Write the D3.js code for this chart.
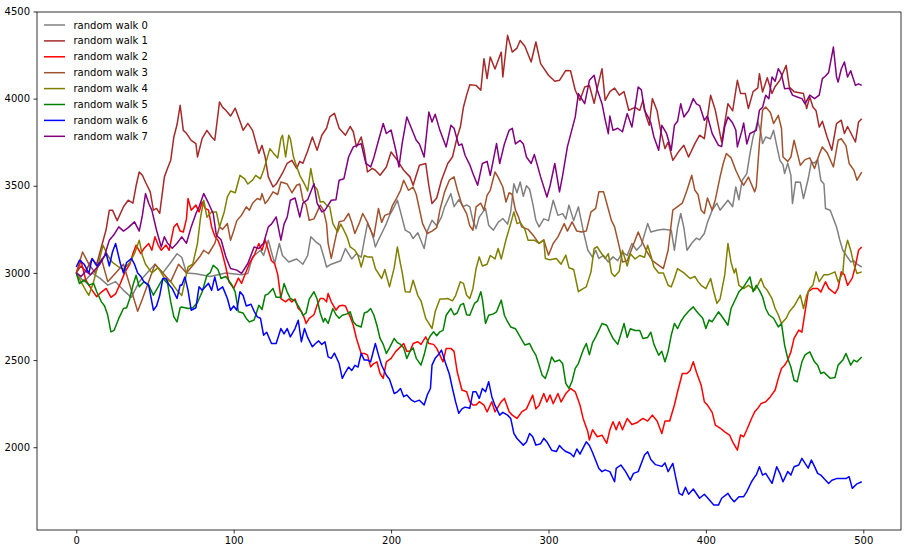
<!DOCTYPE html>
<html><head><meta charset="utf-8">
<script src="https://cdn.jsdelivr.net/npm/d3@7"></script>
<style>body{margin:0;background:#fff} svg text{font-family:"DejaVu Sans",sans-serif;}</style>
</head><body><svg id="c" width="910" height="555"></svg>
<script>
const seriesNames = ["random walk 0","random walk 1","random walk 2","random walk 3","random walk 4","random walk 5","random walk 6","random walk 7"];
const seriesColors = ["#808080","#a52a2a","#ff0000","#a0522d","#808000","#008000","#0000ff","#800080"];
const xTicks = [0,100,200,300,400,500];
const yTicks = [2000,2500,3000,3500,4000,4500];

// [step, value]
const walk0 = [[0,3000],[5,2950],[10,3000],[15,2970],[20,2930],[25,2950],[30,2900],[35,2860],[40,2950],[45,3000],[50,3050],[55,3000],[60,3060],[64,3110],[67,3090],[70,3000],[76,2995],[85,2980],[95,3000],[105,2990],[109,2997],[112,3092],[117,3130],[119,3100],[122,3188],[124,3120],[126,3054],[129,3169],[131,3100],[135,3063],[140,3080],[144,3050],[147,3100],[149,3207],[152,3180],[155,3160],[157,3100],[159,3034],[162,3050],[165,3060],[168,3070],[171,3140],[175,3080],[178,3110],[181,3090],[183,3188],[185,3283],[187,3250],[189,3190],[190,3149],[192,3190],[195,3245],[197,3283],[199,3330],[202,3379],[204,3417],[206,3350],[209,3245],[212,3230],[214,3197],[217,3230],[221,3140],[223,3240],[226,3302],[229,3270],[232,3320],[234,3379],[238,3455],[240,3380],[243,3420],[246,3380],[248,3390],[250,3379],[252,3300],[254,3254],[256,3320],[260,3370],[262,3274],[265,3245],[268,3290],[271,3312],[274,3280],[276,3350],[278,3512],[280,3460],[282,3522],[284,3440],[286,3500],[288,3480],[290,3398],[292,3302],[294,3264],[297,3310],[300,3300],[303,3417],[306,3330],[309,3340],[311,3310],[313,3389],[316,3300],[319,3379],[322,3245],[325,3130],[328,3090],[330,3130],[332,3083],[335,3100],[338,3063],[341,3092],[344,3070],[347,3120],[350,3100],[353,3169],[356,3130],[359,3160],[363,3283],[365,3235],[369,3245],[373,3250],[378,3245],[380,3130],[382,3260],[384,3341],[386,3260],[388,3130],[391,3170],[394,3200],[396,3190],[399,3226],[401,3290],[404,3360],[407,3400],[409,3360],[414,3417],[417,3380],[419,3493],[421,3420],[423,3530],[426,3570],[428,3685],[430,3780],[433,3870],[435,3800],[436,3742],[438,3780],[441,3770],[443,3818],[445,3730],[447,3646],[449,3620],[450,3570],[452,3630],[454,3560],[455,3398],[457,3522],[460,3520],[462,3427],[465,3540],[467,3637],[469,3630],[471,3650],[473,3532],[475,3510],[476,3370],[479,3360],[483,3264],[485,3190],[487,3130],[490,3090],[492,3063],[494,3070],[496,3050],[499,3034]];
const walk1 = [[0,3000],[3,3040],[6,3010],[10,3080],[13,3050],[16,3150],[19,3250],[21,3360],[23,3360],[26,3300],[30,3380],[33,3417],[36,3400],[38,3500],[40,3579],[42,3560],[44,3520],[47,3465],[49,3360],[51,3370],[53,3342],[56,3551],[58,3600],[60,3646],[62,3780],[64,3850],[66,3962],[68,3818],[70,3801],[73,3760],[76,3742],[77,3665],[80,3772],[83,3818],[86,3780],[88,3761],[91,3981],[93,3950],[95,3933],[98,3900],[101,3945],[104,3870],[106,3818],[109,3858],[112,3818],[116,3686],[118,3732],[120,3665],[122,3551],[125,3493],[127,3510],[131,3572],[134,3629],[137,3646],[140,3600],[142,3640],[144,3629],[147,3700],[150,3780],[153,3704],[156,3790],[159,3830],[161,3895],[164,3916],[167,3830],[171,3790],[174,3840],[176,3810],[178,3723],[181,3780],[183,3700],[185,3579],[188,3600],[190,3589],[193,3560],[197,3608],[200,3694],[204,3646],[208,3589],[212,3551],[214,3503],[218,3618],[222,3628],[224,3500],[226,3398],[229,3430],[232,3532],[236,3628],[239,3665],[242,3780],[244,3837],[246,3952],[248,4020],[250,4080],[254,4076],[257,4048],[259,4229],[261,4115],[263,4239],[266,4170],[270,4267],[271,4124],[274,4363],[277,4267],[280,4290],[282,4334],[285,4300],[289,4210],[292,4325],[295,4201],[300,4134],[304,4100],[307,4105],[311,4162],[314,4160],[317,4048],[320,3990],[323,4067],[326,4075],[329,3973],[331,4060],[334,4172],[336,3990],[339,4040],[342,4060],[345,4020],[348,4040],[351,3933],[355,3950],[358,3933],[360,3990],[362,3900],[364,3847],[366,4000],[369,3930],[371,3828],[374,3713],[376,3750],[379,3646],[383,3700],[386,3732],[389,3665],[393,3742],[396,3790],[399,3770],[403,4019],[406,3933],[410,3751],[414,3971],[417,3930],[420,4105],[422,4030],[425,4030],[427,3943],[430,4040],[433,4062],[434,4143],[436,4038],[439,4120],[442,4029],[444,4070],[447,4105],[451,4191],[453,4067],[456,4040],[462,4029],[464,3943],[466,4010],[468,3952],[470,3930],[472,3837],[474,3870],[477,3780],[480,3704],[483,3857],[486,3876],[488,3800],[490,3840],[495,3751],[497,3866],[499,3885]];
const walk2 = [[0,3000],[3,3070],[6,2960],[10,2901],[13,2863],[16,2890],[19,2911],[22,2860],[25,2880],[28,2939],[31,3006],[34,3050],[36,3111],[38,3159],[41,3111],[43,3140],[46,3169],[48,3130],[50,3207],[52,3160],[54,3130],[57,3160],[59,3130],[62,3264],[64,3283],[66,3240],[68,3235],[70,3310],[71,3427],[73,3360],[76,3389],[78,3350],[80,3407],[82,3370],[84,3360],[86,3264],[88,3210],[90,3188],[92,3140],[95,3034],[97,2949],[100,2911],[103,2970],[105,2940],[107,2987],[110,3054],[113,3100],[116,3169],[118,3130],[120,3190],[122,3130],[124,3070],[126,3054],[128,2990],[130,2853],[133,2834],[135,2850],[137,2834],[139,2850],[141,2796],[143,2780],[145,2739],[146,2710],[148,2739],[151,2760],[153,2815],[155,2853],[157,2853],[159,2834],[160,2882],[162,2834],[165,2786],[167,2810],[169,2815],[171,2810],[174,2748],[176,2700],[178,2624],[181,2538],[183,2538],[185,2530],[187,2461],[189,2480],[191,2490],[193,2423],[195,2395],[197,2490],[200,2510],[203,2550],[205,2567],[208,2595],[210,2550],[212,2550],[214,2595],[217,2605],[219,2590],[222,2633],[224,2595],[227,2590],[229,2567],[231,2528],[233,2490],[235,2567],[238,2567],[240,2550],[242,2433],[245,2328],[248,2318],[250,2261],[252,2242],[254,2242],[256,2261],[259,2242],[261,2203],[264,2261],[266,2203],[270,2261],[272,2280],[275,2203],[277,2184],[280,2165],[283,2203],[286,2220],[290,2299],[292,2220],[294,2240],[297,2308],[299,2260],[301,2300],[303,2250],[306,2308],[308,2260],[311,2308],[314,2337],[317,2318],[320,2242],[322,2165],[325,2088],[326,2041],[328,2100],[331,2060],[334,2069],[337,2022],[339,2100],[341,2146],[343,2100],[345,2146],[347,2100],[350,2165],[353,2130],[356,2140],[360,2165],[363,2150],[366,2184],[369,2150],[372,2079],[374,2150],[377,2150],[380,2242],[382,2318],[385,2423],[388,2423],[390,2440],[392,2490],[394,2430],[397,2356],[399,2261],[401,2242],[404,2200],[406,2127],[409,2110],[412,2088],[415,2070],[417,2031],[420,1983],[422,2070],[424,2060],[426,2100],[429,2165],[431,2203],[433,2223],[435,2250],[438,2261],[441,2290],[444,2328],[446,2395],[448,2452],[450,2470],[452,2500],[454,2547],[456,2624],[459,2672],[461,2660],[463,2777],[465,2892],[468,2911],[471,2911],[473,2890],[476,2949],[478,2911],[482,2882],[484,2911],[486,3006],[488,2990],[490,2929],[493,2970],[495,3040],[497,3130],[499,3149]];
const walk3 = [[0,3000],[4,3120],[8,3050],[12,3000],[16,3080],[20,2950],[25,3000],[30,3050],[35,2900],[39,2780],[42,2850],[46,2950],[50,3050],[55,3000],[60,2950],[65,3050],[70,3000],[75,3054],[79,3100],[81,3130],[84,3110],[88,3169],[91,3264],[93,3250],[96,3283],[98,3188],[100,3240],[102,3300],[105,3331],[108,3379],[110,3360],[112,3400],[115,3427],[117,3420],[118,3455],[120,3398],[122,3420],[125,3465],[128,3450],[130,3522],[134,3510],[137,3460],[140,3503],[142,3510],[144,3417],[146,3390],[148,3302],[151,3310],[155,3389],[157,3360],[159,3283],[160,3169],[162,3083],[164,3169],[167,3293],[170,3300],[173,3341],[175,3290],[177,3226],[180,3290],[182,3341],[185,3290],[187,3245],[189,3207],[192,3370],[194,3290],[196,3330],[199,3340],[201,3389],[203,3420],[206,3474],[208,3532],[211,3474],[214,3493],[216,3450],[220,3283],[223,3226],[226,3240],[229,3260],[231,3360],[234,3465],[237,3532],[240,3551],[242,3480],[245,3390],[248,3340],[250,3270],[252,3245],[254,3379],[257,3400],[259,3360],[261,3446],[263,3474],[266,3579],[268,3550],[271,3493],[273,3407],[275,3460],[277,3450],[279,3360],[281,3320],[283,3264],[287,3250],[291,3207],[294,3169],[297,3190],[300,3102],[303,3169],[306,3207],[310,3283],[312,3240],[315,3293],[318,3240],[321,3235],[324,3240],[327,3350],[330,3370],[332,3465],[335,3465],[337,3400],[340,3300],[342,3264],[345,3149],[347,3063],[350,3070],[353,3140],[357,3235],[359,3190],[362,3130],[366,3070],[369,3050],[373,3025],[376,3130],[379,3360],[382,3380],[385,3400],[388,3474],[391,3560],[393,3474],[395,3450],[397,3360],[399,3341],[401,3430],[404,3360],[406,3420],[409,3551],[411,3628],[413,3685],[416,3660],[419,3589],[422,3530],[424,3503],[427,3550],[431,3465],[432,3493],[434,3742],[436,3933],[438,3952],[441,3920],[443,3857],[446,3904],[448,3830],[449,3665],[452,3640],[454,3665],[456,3761],[458,3690],[460,3618],[463,3650],[466,3660],[469,3599],[472,3680],[474,3723],[477,3690],[481,3608],[484,3761],[486,3770],[489,3730],[491,3628],[494,3590],[496,3532],[499,3579]];
const walk4 = [[0,3000],[3,2950],[6,2900],[8,2872],[11,2950],[14,3050],[17,3159],[20,3100],[23,3060],[27,3034],[30,3020],[34,3060],[37,3111],[40,3188],[42,3100],[44,3050],[48,3000],[52,3030],[56,2970],[60,2950],[64,2900],[67,2870],[71,3034],[74,3050],[77,3169],[79,3321],[81,3417],[83,3320],[86,3350],[89,3350],[91,3264],[94,3350],[96,3436],[98,3470],[101,3460],[104,3560],[107,3540],[109,3510],[112,3532],[114,3560],[117,3540],[119,3589],[121,3650],[123,3713],[125,3690],[128,3660],[130,3771],[131,3790],[133,3665],[135,3790],[136,3770],[138,3665],[140,3610],[142,3560],[145,3510],[147,3470],[149,3599],[151,3500],[153,3480],[155,3407],[157,3410],[159,3389],[161,3380],[163,3283],[166,3235],[168,3280],[170,3245],[172,3207],[174,3149],[177,3130],[179,3100],[181,3034],[183,3100],[185,3092],[188,3092],[190,3025],[194,2968],[196,3020],[199,2920],[202,3030],[204,3149],[206,3050],[207,3006],[209,2892],[212,2890],[214,2958],[217,2870],[219,2840],[222,2739],[224,2710],[226,2681],[228,2777],[231,2850],[233,2850],[236,2853],[239,2840],[241,2870],[244,2949],[246,2940],[248,2872],[250,2853],[252,2911],[254,3025],[256,3092],[258,3040],[261,3050],[263,3100],[266,3080],[268,3140],[270,3080],[273,3190],[276,3283],[278,3350],[280,3283],[282,3290],[285,3250],[287,3188],[291,3188],[294,3170],[297,3188],[298,3083],[301,3075],[305,3083],[308,3050],[311,3102],[313,3030],[316,3020],[319,2892],[322,2910],[324,2920],[327,3006],[329,3140],[331,3150],[333,3120],[336,3083],[338,3110],[340,3000],[342,2980],[345,3010],[347,3130],[350,3040],[352,3110],[355,3080],[358,3100],[361,3090],[363,3159],[365,3100],[367,3034],[370,3000],[373,3000],[376,2929],[378,2920],[380,2970],[382,3025],[386,3000],[390,2968],[393,2980],[395,2950],[397,2929],[400,2910],[403,2968],[405,2892],[407,2825],[409,2850],[412,2990],[414,3169],[416,3060],[418,3000],[419,3025],[421,2929],[424,2910],[427,2929],[431,2900],[433,2930],[435,2968],[437,2920],[439,2900],[442,2853],[444,2796],[446,2760],[448,2710],[451,2740],[453,2777],[456,2810],[460,2872],[462,2796],[464,2872],[466,2911],[468,2930],[470,3006],[472,2950],[475,2990],[478,2990],[482,3006],[484,2949],[487,3000],[488,3111],[490,3188],[492,3130],[494,3050],[496,2997],[499,3006]];
const walk5 = [[0,3000],[2,2939],[5,2960],[8,2930],[11,2940],[13,2892],[16,2834],[18,2810],[20,2757],[22,2662],[24,2670],[27,2739],[30,2796],[32,2800],[34,2853],[36,2929],[38,2987],[40,2920],[43,2950],[46,2930],[49,2872],[52,2920],[55,2968],[58,2940],[60,2834],[62,2748],[64,2719],[66,2800],[67,2805],[71,2796],[74,2800],[77,2830],[80,2892],[83,2987],[85,3000],[87,3044],[90,3020],[92,2968],[95,2980],[99,2929],[101,2890],[103,2777],[106,2770],[108,2739],[110,2719],[113,2730],[116,2815],[118,2790],[120,2872],[122,2880],[125,2911],[127,2860],[130,2860],[132,2939],[134,2890],[136,2853],[139,2840],[142,2796],[144,2757],[146,2770],[148,2850],[151,2892],[153,2850],[155,2770],[157,2719],[158,2739],[160,2710],[163,2796],[165,2760],[167,2740],[169,2757],[172,2765],[174,2777],[176,2720],[178,2700],[181,2690],[183,2770],[185,2777],[187,2796],[189,2760],[191,2700],[193,2624],[195,2590],[197,2538],[199,2570],[202,2624],[204,2600],[206,2590],[208,2570],[210,2509],[212,2550],[214,2570],[216,2510],[219,2471],[221,2530],[223,2605],[225,2640],[227,2662],[229,2640],[231,2662],[233,2670],[235,2757],[238,2796],[240,2760],[242,2770],[244,2815],[246,2825],[248,2760],[250,2757],[253,2825],[255,2840],[257,2892],[258,2850],[260,2710],[262,2757],[265,2765],[267,2777],[270,2844],[272,2757],[274,2720],[276,2690],[279,2680],[282,2633],[285,2586],[288,2595],[290,2557],[292,2528],[294,2471],[296,2413],[298,2395],[300,2450],[302,2518],[304,2490],[307,2500],[309,2480],[311,2366],[313,2337],[315,2380],[317,2452],[319,2480],[322,2557],[324,2595],[326,2530],[328,2600],[330,2633],[332,2670],[334,2710],[337,2700],[339,2660],[341,2624],[344,2590],[346,2650],[348,2710],[350,2630],[352,2680],[355,2670],[358,2670],[360,2624],[363,2630],[365,2660],[367,2590],[370,2528],[372,2550],[374,2490],[376,2550],[378,2643],[380,2710],[382,2680],[384,2720],[386,2748],[389,2780],[392,2805],[394,2780],[396,2760],[398,2740],[400,2681],[402,2730],[404,2720],[408,2777],[411,2740],[414,2700],[416,2796],[419,2853],[421,2892],[424,2920],[428,2977],[430,2892],[432,2929],[434,2900],[436,2863],[438,2796],[440,2760],[443,2740],[446,2690],[448,2710],[450,2586],[452,2509],[454,2460],[456,2384],[458,2375],[461,2490],[463,2530],[466,2547],[469,2490],[471,2470],[473,2423],[475,2430],[479,2395],[482,2400],[484,2471],[487,2500],[489,2538],[492,2471],[494,2500],[496,2490],[499,2518]];
const walk6 = [[0,3034],[2,3073],[5,3050],[8,2997],[10,3083],[13,3040],[16,3070],[19,3111],[21,3040],[23,3120],[25,3169],[28,3054],[30,3000],[32,3060],[35,3083],[37,3050],[39,3000],[41,2980],[43,2949],[46,2930],[49,2786],[51,2810],[53,2870],[55,2968],[57,2968],[59,2930],[61,2910],[64,2853],[66,2930],[67,2929],[69,2977],[71,2900],[73,2786],[76,2800],[78,2920],[80,2900],[82,2920],[84,2940],[86,2900],[88,2977],[90,2900],[93,2920],[96,2853],[98,2786],[100,2810],[102,2786],[104,2892],[106,2870],[108,2810],[111,2820],[113,2780],[115,2748],[117,2740],[119,2643],[121,2660],[124,2595],[127,2595],[130,2681],[132,2650],[134,2681],[136,2633],[139,2681],[141,2729],[143,2605],[145,2681],[147,2630],[150,2576],[152,2595],[154,2610],[156,2590],[158,2605],[160,2518],[162,2510],[164,2540],[167,2480],[169,2395],[171,2430],[173,2460],[175,2440],[177,2470],[179,2460],[181,2538],[183,2500],[185,2500],[187,2490],[190,2595],[192,2530],[194,2470],[197,2413],[199,2390],[202,2308],[204,2318],[206,2337],[208,2290],[210,2300],[213,2270],[215,2260],[218,2270],[221,2242],[223,2300],[225,2337],[226,2471],[228,2510],[230,2530],[232,2557],[235,2471],[237,2420],[239,2337],[241,2260],[243,2194],[245,2220],[247,2230],[250,2223],[252,2318],[254,2318],[256,2280],[258,2337],[260,2318],[262,2376],[264,2290],[266,2240],[269,2184],[271,2200],[274,2184],[276,2165],[278,2079],[280,2050],[284,2012],[286,2030],[288,2079],[290,2060],[292,2012],[295,2020],[297,2051],[299,2030],[302,1983],[305,1975],[307,2010],[309,1990],[311,1975],[314,1964],[316,1945],[318,1990],[320,1960],[324,2031],[326,2010],[328,1970],[332,1878],[334,1860],[336,1870],[339,1860],[342,1802],[343,1878],[346,1898],[349,1860],[352,1811],[354,1850],[357,1860],[361,1955],[363,1974],[365,1930],[368,1900],[372,1890],[374,1910],[376,1860],[379,1907],[381,1820],[383,1735],[385,1725],[387,1770],[389,1730],[392,1760],[396,1707],[399,1730],[402,1700],[405,1668],[408,1668],[410,1707],[414,1735],[416,1707],[418,1687],[421,1716],[424,1716],[426,1745],[429,1802],[431,1830],[432,1840],[434,1888],[436,1840],[438,1850],[442,1792],[445,1888],[447,1850],[449,1802],[452,1860],[454,1840],[456,1888],[459,1898],[461,1936],[463,1907],[465,1880],[467,1926],[469,1890],[471,1850],[473,1840],[475,1820],[478,1792],[480,1810],[483,1820],[486,1820],[489,1820],[491,1831],[493,1764],[496,1790],[499,1802]];
const walk7 = [[0,3000],[3,2980],[6,3010],[9,2990],[12,3020],[15,3050],[18,3100],[21,3188],[24,3220],[27,3264],[30,3240],[33,3260],[37,3293],[40,3240],[42,3330],[44,3455],[46,3400],[48,3360],[51,3245],[54,3149],[56,3207],[58,3170],[61,3142],[64,3170],[67,3207],[70,3170],[73,3264],[76,3340],[78,3380],[81,3455],[84,3400],[87,3341],[89,3216],[92,3190],[95,3092],[98,3025],[102,3016],[105,2997],[109,3054],[113,3149],[116,3140],[119,3170],[122,3264],[124,3280],[127,3321],[130,3188],[132,3280],[134,3320],[136,3417],[139,3430],[142,3321],[144,3400],[147,3420],[151,3512],[153,3400],[156,3350],[158,3360],[162,3417],[165,3420],[167,3532],[170,3540],[173,3665],[176,3723],[181,3742],[184,3628],[187,3608],[189,3660],[192,3760],[195,3857],[197,3800],[200,3820],[203,3704],[205,3608],[207,3740],[210,3895],[212,3850],[216,3761],[218,3740],[221,3665],[224,3923],[226,3866],[228,3910],[231,3818],[235,3723],[238,3847],[240,3830],[243,3732],[245,3740],[247,3675],[250,3620],[252,3570],[255,3503],[258,3628],[261,3640],[263,3560],[267,3742],[269,3628],[272,3740],[275,3818],[277,3830],[279,3740],[282,3760],[284,3740],[286,3665],[289,3628],[291,3680],[295,3551],[299,3436],[301,3500],[304,3628],[307,3465],[309,3560],[312,3723],[317,3895],[319,4029],[323,3971],[326,4105],[329,4134],[331,4050],[334,3971],[336,3880],[338,3799],[339,3900],[341,3818],[344,3830],[347,3810],[350,3914],[353,3837],[355,3950],[357,4067],[359,4050],[361,3933],[363,3900],[365,3860],[367,3780],[370,3704],[372,3847],[375,3800],[378,3704],[380,3847],[382,3870],[384,3971],[386,3895],[389,3930],[392,4000],[394,3970],[396,3960],[399,3876],[401,3900],[404,3799],[408,3732],[410,3725],[412,3840],[414,3895],[417,3860],[419,3820],[420,3723],[423,3820],[424,3860],[426,3740],[428,3800],[432,3818],[434,3933],[436,3950],[438,4019],[440,4000],[442,4124],[444,4100],[446,4172],[448,4140],[450,4057],[453,4060],[455,4020],[458,4009],[461,4000],[463,3970],[466,4020],[469,4000],[472,4020],[474,4115],[476,4130],[478,4150],[481,4296],[483,4124],[484,4095],[486,4170],[488,4210],[490,4124],[492,4160],[495,4076],[497,4085],[499,4076]];

const walks = [walk0, walk1, walk2, walk3, walk4, walk5, walk6, walk7];

const svg = d3.select("#c");
svg.append("rect").attr("width",910).attr("height",555).attr("fill","#fff");

const L = 37, R = 901, T = 12, B = 530;
const x = d3.scaleLinear().domain([-24.95, 523.95]).range([L, R]);
const y = d3.scaleLinear().domain([1525, 4497]).range([B, T]);

svg.append("defs").append("clipPath").attr("id","clip")
  .append("rect").attr("x",L).attr("y",T).attr("width",R-L).attr("height",B-T);

const line = d3.line().x(d => x(d[0])).y(d => y(d[1]));
const g = svg.append("g").attr("clip-path","url(#clip)");
walks.forEach((w, i) => {
  g.append("path").datum(w)
    .attr("d", line)
    .attr("fill","none")
    .attr("stroke", seriesColors[i])
    .attr("stroke-width",1.5)
    .attr("stroke-linejoin","round");
});

// axes
const xAxis = svg.append("g").attr("transform",`translate(0,${B})`)
  .call(d3.axisBottom(x).tickValues(xTicks).tickSize(3.5).tickPadding(3.5).tickFormat(d3.format("d")));
const yAxis = svg.append("g").attr("transform",`translate(${L},0)`)
  .call(d3.axisLeft(y).tickValues(yTicks).tickSize(3.5).tickPadding(3.5).tickFormat(d3.format("d")));
[xAxis, yAxis].forEach(a => {
  a.select(".domain").remove();
  a.selectAll(".tick line").attr("stroke","#000").attr("stroke-width",0.8);
  a.selectAll(".tick text").attr("fill","#000").attr("font-size","10px")
    .attr("font-family","DejaVu Sans, sans-serif");
});

svg.append("rect").attr("x",L).attr("y",T).attr("width",R-L).attr("height",B-T)
  .attr("fill","none").attr("stroke","#000").attr("stroke-width",0.8);

// legend
const lg = svg.append("g");
seriesNames.forEach((name, i) => {
  const cy = 25 + i * 15.9;
  lg.append("line").attr("x1",44).attr("x2",65).attr("y1",cy).attr("y2",cy)
    .attr("stroke", seriesColors[i]).attr("stroke-width",1.5);
  lg.append("text").attr("x",73.5).attr("y",cy).attr("dy","0.35em")
    .attr("font-size","10px").attr("fill","#000").text(name);
});
</script>
</body></html>
